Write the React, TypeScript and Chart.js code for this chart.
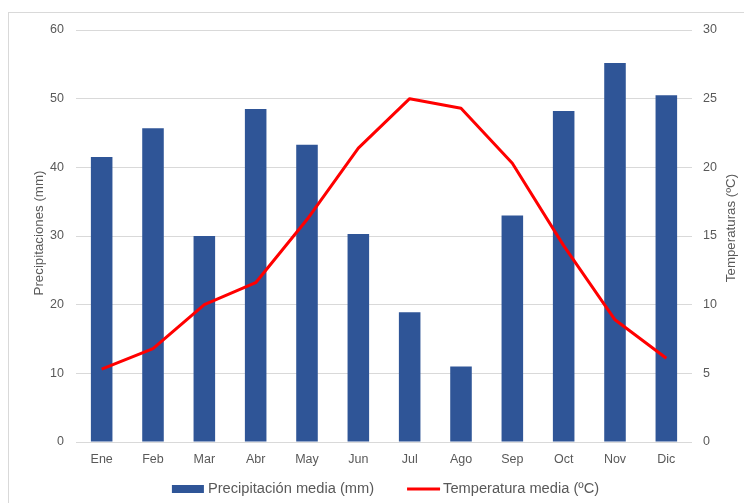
import React, { useEffect, useRef } from "react";
import { Chart, registerables } from "chart.js";

Chart.register(...registerables);

// Monthly climate data
const months = ["Ene", "Feb", "Mar", "Abr", "May", "Jun", "Jul", "Ago", "Sep", "Oct", "Nov", "Dic"];
const precipitacion = [41.5, 45.7, 30.0, 48.5, 43.3, 30.3, 18.9, 11.0, 33.0, 48.2, 55.2, 50.5];
const temperatura = [5.3, 6.8, 10.0, 11.6, 16.2, 21.4, 25.0, 24.3, 20.3, 14.3, 8.9, 6.1];

const precipLabel = "Precipitación media (mm)";
const tempLabel = "Temperatura media (ºC)";
const leftTitle = "Precipitaciones (mm)";
const rightTitle = "Temperaturas (ºC)";

const FONT = "'Liberation Sans', Arial, Helvetica, sans-serif";
const TEXT = "#595959";
const GRID = "#d9d9d9";
const BLUE = "#2f5597";
const RED = "#ff0000";

// Both axis titles read bottom-to-top
const axisTitles = {
  id: "axisTitles",
  afterDraw(chart: any) {
    const { ctx, chartArea, scales } = chart;
    const midY = (chartArea.top + chartArea.bottom) / 2;
    ctx.save();
    ctx.font = `13.3px ${FONT}`;
    ctx.fillStyle = TEXT;
    ctx.textAlign = "center";
    ctx.textBaseline = "middle";
    const draw = (text: string, x: number, y: number) => {
      ctx.save();
      ctx.translate(x, y);
      ctx.rotate(-Math.PI / 2);
      ctx.fillText(text, 0, 0);
      ctx.restore();
    };
    draw(leftTitle, scales.y.left + 12, midY - 3);
    draw(rightTitle, scales.y1.right - 12.5, midY - 8);
    ctx.restore();
  },
};

// Legend row under the chart: a filled box for the bars, a stroke for the line
const bottomLegend = {
  id: "bottomLegend",
  afterDraw(chart: any) {
    const { ctx, chartArea } = chart;
    const [bars, line] = chart.data.datasets;
    const boxW = 32;
    const lineW = 33;
    const boxGap = 4;
    const lineGap = 3;
    const itemGap = 33;
    ctx.save();
    ctx.font = `14.67px ${FONT}`;
    ctx.textBaseline = "middle";
    ctx.textAlign = "left";
    const w1 = ctx.measureText(bars.label).width;
    const w2 = ctx.measureText(line.label).width;
    const total = boxW + boxGap + w1 + itemGap + lineW + lineGap + w2;
    const cx = (chartArea.left + chartArea.right) / 2 + 1.5;
    const cy = chartArea.bottom + 47;
    let x = cx - total / 2;

    ctx.fillStyle = bars.backgroundColor;
    ctx.fillRect(x, cy - 4, boxW, 8);
    x += boxW + boxGap;
    ctx.fillStyle = TEXT;
    ctx.fillText(bars.label, x, cy);
    x += w1 + itemGap;

    ctx.strokeStyle = line.borderColor;
    ctx.lineWidth = line.borderWidth;
    ctx.beginPath();
    ctx.moveTo(x, cy);
    ctx.lineTo(x + lineW, cy);
    ctx.stroke();
    x += lineW + lineGap;
    ctx.fillStyle = TEXT;
    ctx.fillText(line.label, x, cy);
    ctx.restore();
  },
};

export default function App() {
  const canvasRef = useRef<HTMLCanvasElement | null>(null);

  useEffect(() => {
    const canvas = canvasRef.current;
    if (!canvas) return;
    const chart = new Chart(canvas, {
      type: "bar",
      data: {
        labels: months,
        datasets: [
          {
            type: "bar",
            label: precipLabel,
            data: precipitacion,
            backgroundColor: BLUE,
            borderWidth: 0,
            barPercentage: 0.42,
            categoryPercentage: 1,
            yAxisID: "y",
            order: 1,
          },
          {
            type: "line",
            label: tempLabel,
            data: temperatura,
            borderColor: RED,
            backgroundColor: RED,
            borderWidth: 3,
            tension: 0,
            pointRadius: 0,
            pointHoverRadius: 0,
            borderJoinStyle: "round",
            yAxisID: "y1",
            order: 0,
          },
        ] as any,
      },
      options: {
        responsive: false,
        animation: false,
        devicePixelRatio: 1,
        layout: { padding: { top: 30, left: 27, right: 0, bottom: 0 } },
        plugins: {
          tooltip: { enabled: false },
          legend: { display: false },
        },
        scales: {
          x: {
            grid: { display: false, drawTicks: false, tickLength: 0 },
            border: { display: false },
            ticks: { color: TEXT, padding: 10, font: { family: FONT, size: 12.5 } },
            afterFit: (scale: any) => {
              scale.height = 64;
            },
          },
          y: {
            position: "left",
            min: 0,
            max: 60,
            ticks: { stepSize: 10, color: TEXT, padding: 12, font: { family: FONT, size: 12.5 } },
            grid: { color: GRID, lineWidth: 1, drawTicks: false, tickLength: 0 },
            border: { display: false },
            afterFit: (scale: any) => {
              scale.width = 49;
            },
          },
          y1: {
            position: "right",
            min: 0,
            max: 30,
            ticks: { stepSize: 5, color: TEXT, padding: 11, font: { family: FONT, size: 12.5 } },
            grid: { display: false, drawTicks: false, tickLength: 0 },
            border: { display: false },
            afterFit: (scale: any) => {
              scale.width = 52;
            },
          },
        },
      } as any,
      plugins: [axisTitles, bottomLegend],
    });
    return () => chart.destroy();
  }, []);

  return (
    <div
      style={{
        position: "fixed",
        left: 0,
        top: 0,
        width: 744,
        height: 503,
        overflow: "hidden",
        background: "#ffffff",
      }}
    >
      <div
        style={{
          position: "absolute",
          left: 8,
          top: 12,
          width: 800,
          height: 600,
          border: `1px solid ${GRID}`,
          boxSizing: "border-box",
        }}
      />
      <canvas
        ref={canvasRef}
        width={744}
        height={506}
        style={{ position: "absolute", left: 0, top: 0, display: "block" }}
      />
    </div>
  );
}
